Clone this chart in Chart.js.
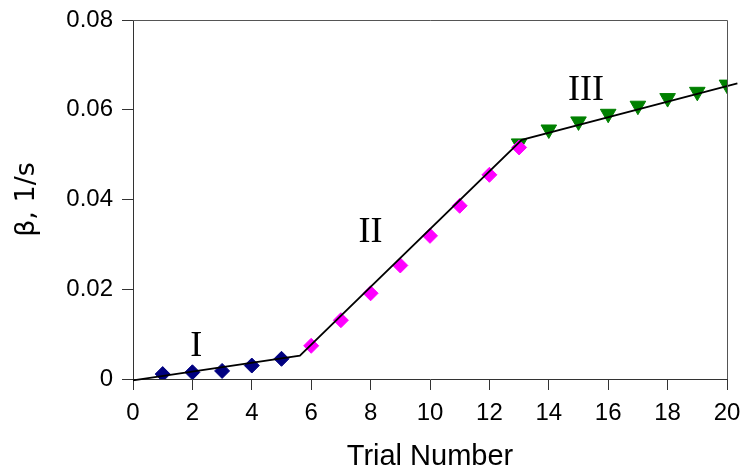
<!DOCTYPE html>
<html>
<head>
<meta charset="utf-8">
<script src="https://cdn.jsdelivr.net/npm/chart.js@4.4.1/dist/chart.umd.min.js"></script>
<style>
  html, body { margin: 0; padding: 0; background: #fff; }
</style>
</head>
<body>
<canvas id="chart" width="746" height="474"></canvas>
<script>
'use strict';

// Stage I: slow initial rise
const trialsI = [1, 2, 3, 4, 5];
const betaI = [0.0011, 0.0015, 0.0018, 0.0030, 0.0045];

// Stage II: steep linear growth
const trialsII = [6, 7, 8, 9, 10, 11, 12, 13];
const betaII = [0.0074, 0.0131, 0.0191, 0.0253, 0.0319, 0.0386, 0.0455, 0.0516];

// Stage III: saturation
const trialsIII = [13, 14, 15, 16, 17, 18, 19, 20];
const betaIII = [0.0525, 0.0556, 0.0574, 0.0591, 0.0609, 0.0626, 0.0640, 0.0656];

// Piecewise linear fit (break points)
const fitX = [0, 5.62, 13.09, 20.35];
const fitY = [-0.0003, 0.0052, 0.0533, 0.0659];

// Stage labels
const stageNames = ['I', 'II', 'III'];
const stageX = [2.13, 8.0, 15.25];
const stageY = [0.0072, 0.0326, 0.0642];

const toPoints = (xs, ys) => xs.map((x, i) => ({ x, y: ys[i] }));

const AXIS_COLOR = '#333333';
const TICK_FONT = { family: '"Liberation Sans", Arial, sans-serif', size: 24 };

// top and right edges of the plot frame
const framePlugin = {
    id: 'frame',
    afterDraw(chart) {
        const { left, top, right, bottom } = chart.chartArea;
        const ctx = chart.ctx;
        ctx.save();
        ctx.strokeStyle = '#555555';
        ctx.lineWidth = 1;
        ctx.beginPath();
        ctx.moveTo(left, Math.round(top) + 0.5);
        ctx.lineTo(Math.round(right) + 0.5, Math.round(top) + 0.5);
        ctx.lineTo(Math.round(right) + 0.5, bottom);
        ctx.stroke();
        ctx.restore();
    }
};

const stageLabelPlugin = {
    id: 'stageLabels',
    afterDatasetsDraw(chart) {
        const { x: xs, y: ys } = chart.scales;
        const ctx = chart.ctx;
        ctx.save();
        ctx.fillStyle = '#000';
        ctx.font = '36px "Liberation Serif", "Times New Roman", serif';
        ctx.textAlign = 'center';
        ctx.textBaseline = 'middle';
        stageNames.forEach((name, i) => {
            ctx.fillText(name, xs.getPixelForValue(stageX[i]), ys.getPixelForValue(stageY[i]));
        });
        ctx.restore();
    }
};

new Chart(document.getElementById('chart'), {
    type: 'scatter',
    data: {
        datasets: [
            {
                label: 'fit',
                data: toPoints(fitX, fitY),
                showLine: true,
                borderColor: '#000',
                borderWidth: 1.8,
                pointRadius: 0,
                clip: false,
                order: 0
            },
            {
                label: 'II',
                data: toPoints(trialsII, betaII),
                pointStyle: 'rectRot',
                pointRadius: 7.5,
                pointBackgroundColor: '#ff00ff',
                pointBorderColor: '#ff00ff',
                pointBorderWidth: 1,
                order: 1
            },
            {
                label: 'III',
                data: toPoints(trialsIII, betaIII),
                pointStyle: 'triangle',
                pointRotation: 180,
                pointRadius: 9,
                pointBackgroundColor: '#008000',
                pointBorderColor: '#008000',
                pointBorderWidth: 1,
                order: 2
            },
            {
                label: 'I',
                data: toPoints(trialsI, betaI),
                pointStyle: 'rectRot',
                pointRadius: 7.5,
                pointBackgroundColor: '#000080',
                pointBorderColor: '#000080',
                pointBorderWidth: 1,
                order: 3
            }
        ]
    },
    options: {
        responsive: false,
        animation: false,
        layout: { padding: { left: 0, top: 20, right: 19, bottom: 0 } },
        plugins: {
            legend: { display: false },
            tooltip: { enabled: false }
        },
        scales: {
            x: {
                type: 'linear',
                min: 0,
                max: 20,
                ticks: { stepSize: 2, color: '#000', font: TICK_FONT, padding: 9 },
                grid: { drawOnChartArea: false, tickLength: 11, color: AXIS_COLOR },
                border: { color: AXIS_COLOR, width: 1 },
                title: {
                    display: true,
                    text: 'Trial Number',
                    color: '#000',
                    font: { family: '"Liberation Sans", Arial, sans-serif', size: 29 },
                    padding: { top: 0, bottom: 0 }
                },
                afterFit: scale => {
                    scale.height = 95;
                    scale.paddingLeft = 0;
                    scale.paddingRight = 0;
                }
            },
            y: {
                type: 'linear',
                min: 0,
                max: 0.08,
                ticks: {
                    stepSize: 0.02,
                    color: '#000',
                    font: TICK_FONT,
                    padding: 9,
                    callback: v => (Math.abs(v) < 1e-9 ? '0' : v.toFixed(2))
                },
                grid: { drawOnChartArea: false, tickLength: 11, color: AXIS_COLOR },
                border: { color: AXIS_COLOR, width: 1 },
                title: {
                    display: true,
                    text: 'β, 1/s',
                    color: '#000',
                    font: { family: '"DejaVu Sans", sans-serif', size: 27 },
                    padding: { top: 11, bottom: 0 }
                },
                afterFit: scale => {
                    scale.width = 133;
                    scale.paddingTop = 0;
                    scale.paddingBottom = 0;
                }
            }
        }
    },
    plugins: [framePlugin, stageLabelPlugin]
});
</script>
</body>
</html>
